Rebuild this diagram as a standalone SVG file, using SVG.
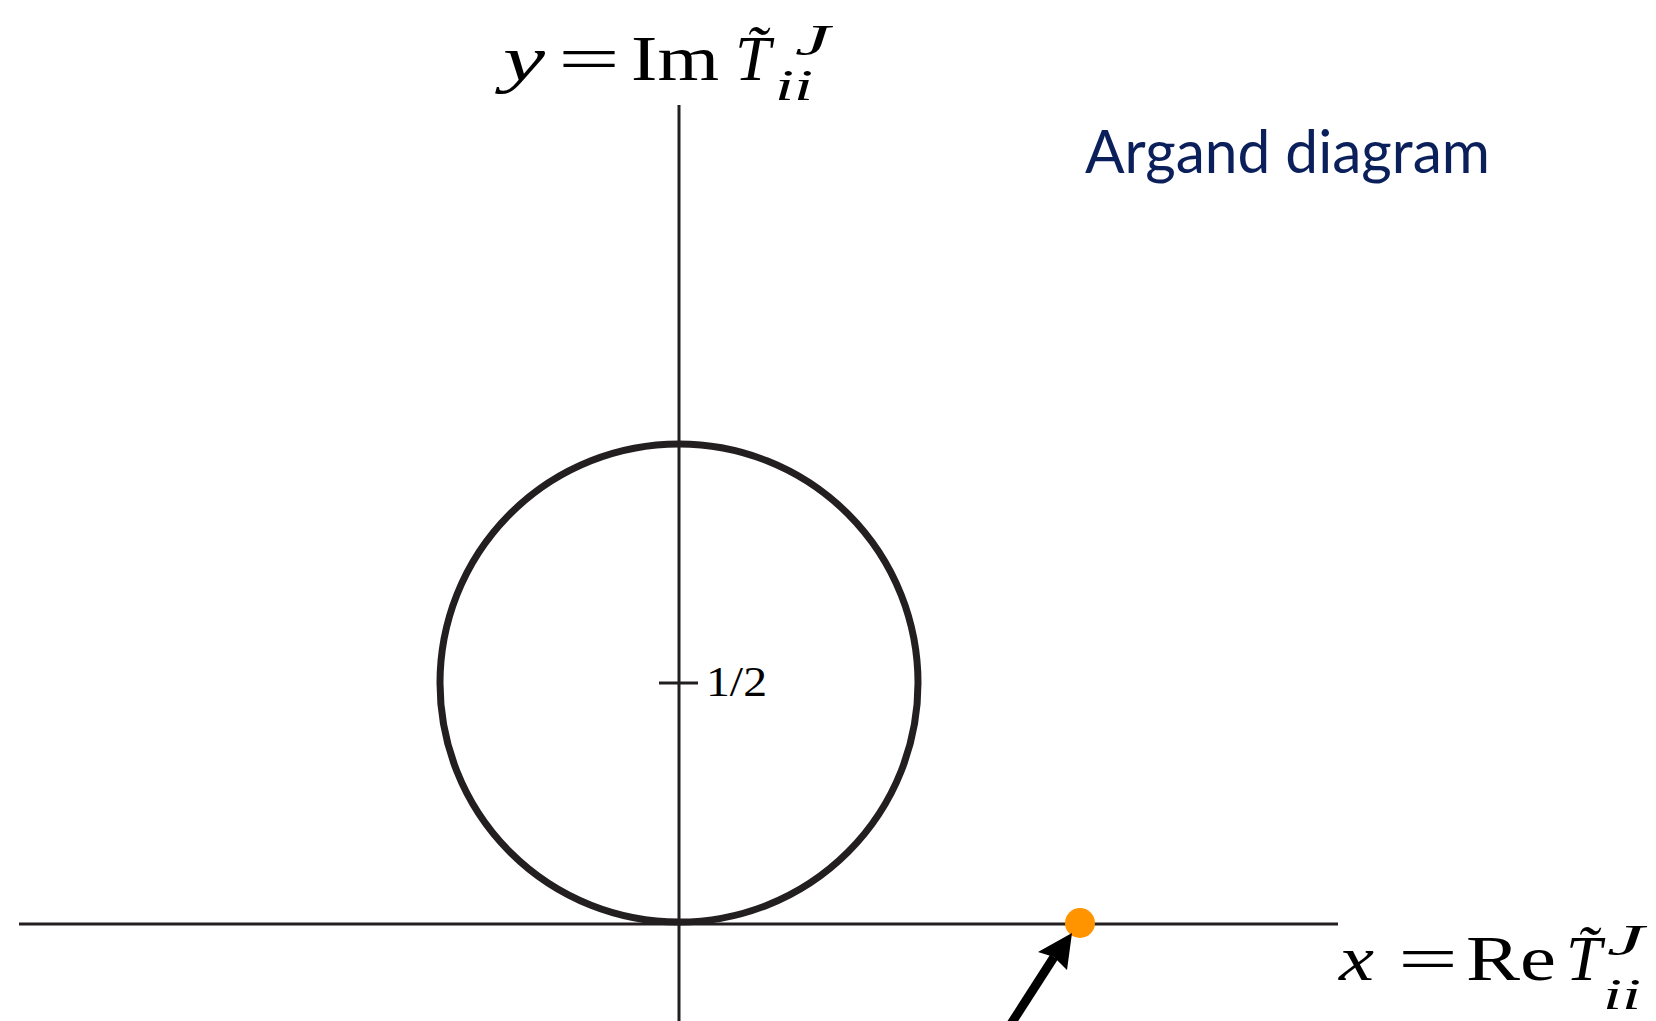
<svg xmlns="http://www.w3.org/2000/svg" width="1656" height="1021" viewBox="0 0 1656 1021">
<style>
.ax{stroke:#231F20;stroke-width:3;fill:none}
.circ{stroke:#231F20;stroke-width:7;fill:none}
.m{font-family:"Liberation Serif",serif;fill:#000}
.it{font-style:italic}
.title{font-family:Lato,"Open Sans",sans-serif;fill:#0B1F5B}
</style>
<rect width="1656" height="1021" fill="#fff"/>
<g id="axes">
<line class="ax" x1="19" y1="924" x2="1338" y2="924"/>
<line class="ax" x1="679" y1="105" x2="679" y2="1021"/>
<line class="ax" x1="659" y1="683" x2="698" y2="683"/>
</g>
<g id="circle">
<circle class="circ" cx="679" cy="683" r="239"/>
</g>
<g id="tick-label">
<text class="m" x="706" y="696" font-size="42" textLength="61" lengthAdjust="spacingAndGlyphs">1/2</text>
</g>
<g id="y-label">
<text class="m it" x="503" y="80" font-size="64" textLength="42" lengthAdjust="spacingAndGlyphs">y</text>
<text class="m" x="558" y="80" font-size="64" textLength="62" lengthAdjust="spacingAndGlyphs">=</text>
<text class="m" x="631" y="80" font-size="64" textLength="88" lengthAdjust="spacingAndGlyphs">Im</text>
<text class="m it" x="735" y="80" font-size="64">T&#x303;</text>
<text class="m it" x="795" y="55" font-size="44" textLength="35" lengthAdjust="spacingAndGlyphs">J</text>
<text class="m it" x="775" y="100" font-size="44" textLength="38" lengthAdjust="spacingAndGlyphs">ii</text>
</g>
<g id="x-label">
<text class="m it" x="1339" y="980" font-size="64" textLength="35" lengthAdjust="spacingAndGlyphs">x</text>
<text class="m" x="1398" y="980" font-size="64" textLength="60" lengthAdjust="spacingAndGlyphs">=</text>
<text class="m" x="1466" y="980" font-size="64" textLength="90" lengthAdjust="spacingAndGlyphs">Re</text>
<text class="m it" x="1566" y="980" font-size="64">T&#x303;</text>
<text class="m it" x="1607" y="955" font-size="44" textLength="37" lengthAdjust="spacingAndGlyphs">J</text>
<text class="m it" x="1603" y="1009" font-size="44" textLength="38" lengthAdjust="spacingAndGlyphs">ii</text>
</g>
<g id="title">
<text class="title" x="1085" y="173" font-size="60" textLength="405" lengthAdjust="spacingAndGlyphs">Argand diagram</text>
</g>
<g id="point">
<circle cx="1080" cy="923" r="15" fill="#FF9400"/>
</g>
<g id="connectors">
<line x1="1009" y1="1027" x2="1054" y2="957" stroke="#000" stroke-width="9"/>
<polygon points="1072,933 1038,952 1054,957 1067,970" fill="#000"/>
</g>
</svg>
